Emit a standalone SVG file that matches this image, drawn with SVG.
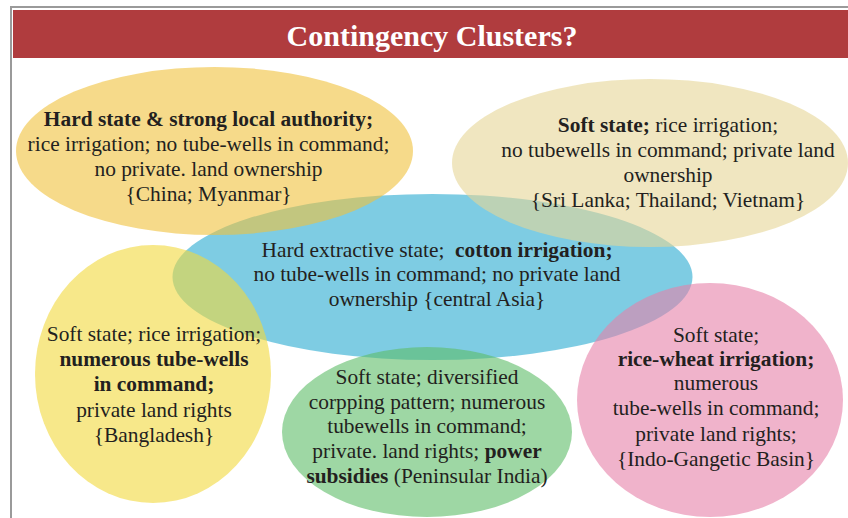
<svg xmlns="http://www.w3.org/2000/svg" width="848" height="518" viewBox="0 0 848 518">
  <style>
    .frame { fill: #ffffff; stroke: #9a9a9a; stroke-width: 2; }
    .banner { fill: #b03c3e; }
    .title { font-family: "Liberation Serif", "Times New Roman", serif; font-weight: bold; font-size: 30px; fill: #ffffff; text-anchor: middle; }
    .lbl { font-family: "Liberation Serif", "Times New Roman", serif; font-size: 21.4px; fill: #231f20; text-anchor: middle; }
    .b { font-weight: bold; }
    .blob { fill-opacity: 0.6; }
  </style>

  <!-- page frame and title banner -->
  <rect class="frame" x="11" y="7" width="850" height="530"/>
  <rect class="banner" x="13" y="10" width="835" height="48"/>
  <text class="title" x="432" y="46">Contingency Clusters?</text>

  <!-- central cluster sits underneath the others -->
  <g id="cluster-central-asia">
    <ellipse class="blob" cx="432.5" cy="277" rx="260" ry="83" fill="#28aad0"/>
    <text class="lbl" x="437" y="257">Hard extractive state;&#160; <tspan class="b">cotton irrigation;</tspan></text>
    <text class="lbl" x="437" y="281">no tube-wells in command; no private land</text>
    <text class="lbl" x="437" y="306">ownership {central Asia}</text>
  </g>

  <g id="cluster-china-myanmar">
    <ellipse class="blob" cx="214.5" cy="151" rx="198.5" ry="84" fill="#f0c13c"/>
    <text class="lbl" x="208.5" y="126"><tspan class="b">Hard state &amp; strong local authority;</tspan></text>
    <text class="lbl" x="208.5" y="151">rice irrigation; no tube-wells in command;</text>
    <text class="lbl" x="208.5" y="176">no private. land ownership</text>
    <text class="lbl" x="208.5" y="201">{China; Myanmar}</text>
  </g>

  <g id="cluster-southeast-asia">
    <ellipse class="blob" cx="650" cy="163" rx="198" ry="84" fill="#e6d596"/>
    <text class="lbl" x="668" y="132"><tspan class="b">Soft state;</tspan> rice irrigation;</text>
    <text class="lbl" x="668" y="157">no tubewells in command; private land</text>
    <text class="lbl" x="668" y="182">ownership</text>
    <text class="lbl" x="668" y="207">{Sri Lanka; Thailand; Vietnam}</text>
  </g>

  <g id="cluster-bangladesh">
    <ellipse class="blob" cx="153" cy="374" rx="118" ry="129" fill="#f2d93c"/>
    <text class="lbl" x="154" y="341">Soft state; rice irrigation;</text>
    <text class="lbl" x="154" y="366"><tspan class="b">numerous tube-wells</tspan></text>
    <text class="lbl" x="154" y="391"><tspan class="b">in command;</tspan></text>
    <text class="lbl" x="154" y="417">private land rights</text>
    <text class="lbl" x="154" y="442">{Bangladesh}</text>
  </g>

  <g id="cluster-peninsular-india">
    <ellipse class="blob" cx="427" cy="432" rx="145" ry="85" fill="#5dbc67"/>
    <text class="lbl" x="427" y="384">Soft state; diversified</text>
    <text class="lbl" x="427" y="409">corpping pattern; numerous</text>
    <text class="lbl" x="427" y="433">tubewells in command;</text>
    <text class="lbl" x="427" y="458">private. land rights; <tspan class="b">power</tspan></text>
    <text class="lbl" x="427" y="483"><tspan class="b">subsidies</tspan> (Peninsular India)</text>
  </g>

  <g id="cluster-indo-gangetic">
    <ellipse class="blob" cx="710" cy="400" rx="133" ry="117" fill="#e680a8"/>
    <text class="lbl" x="716" y="342">Soft state;</text>
    <text class="lbl" x="716" y="366"><tspan class="b">rice-wheat irrigation;</tspan></text>
    <text class="lbl" x="716" y="390">numerous</text>
    <text class="lbl" x="716" y="415">tube-wells in command;</text>
    <text class="lbl" x="716" y="441">private land rights;</text>
    <text class="lbl" x="716" y="466">{Indo-Gangetic Basin}</text>
  </g>
</svg>
